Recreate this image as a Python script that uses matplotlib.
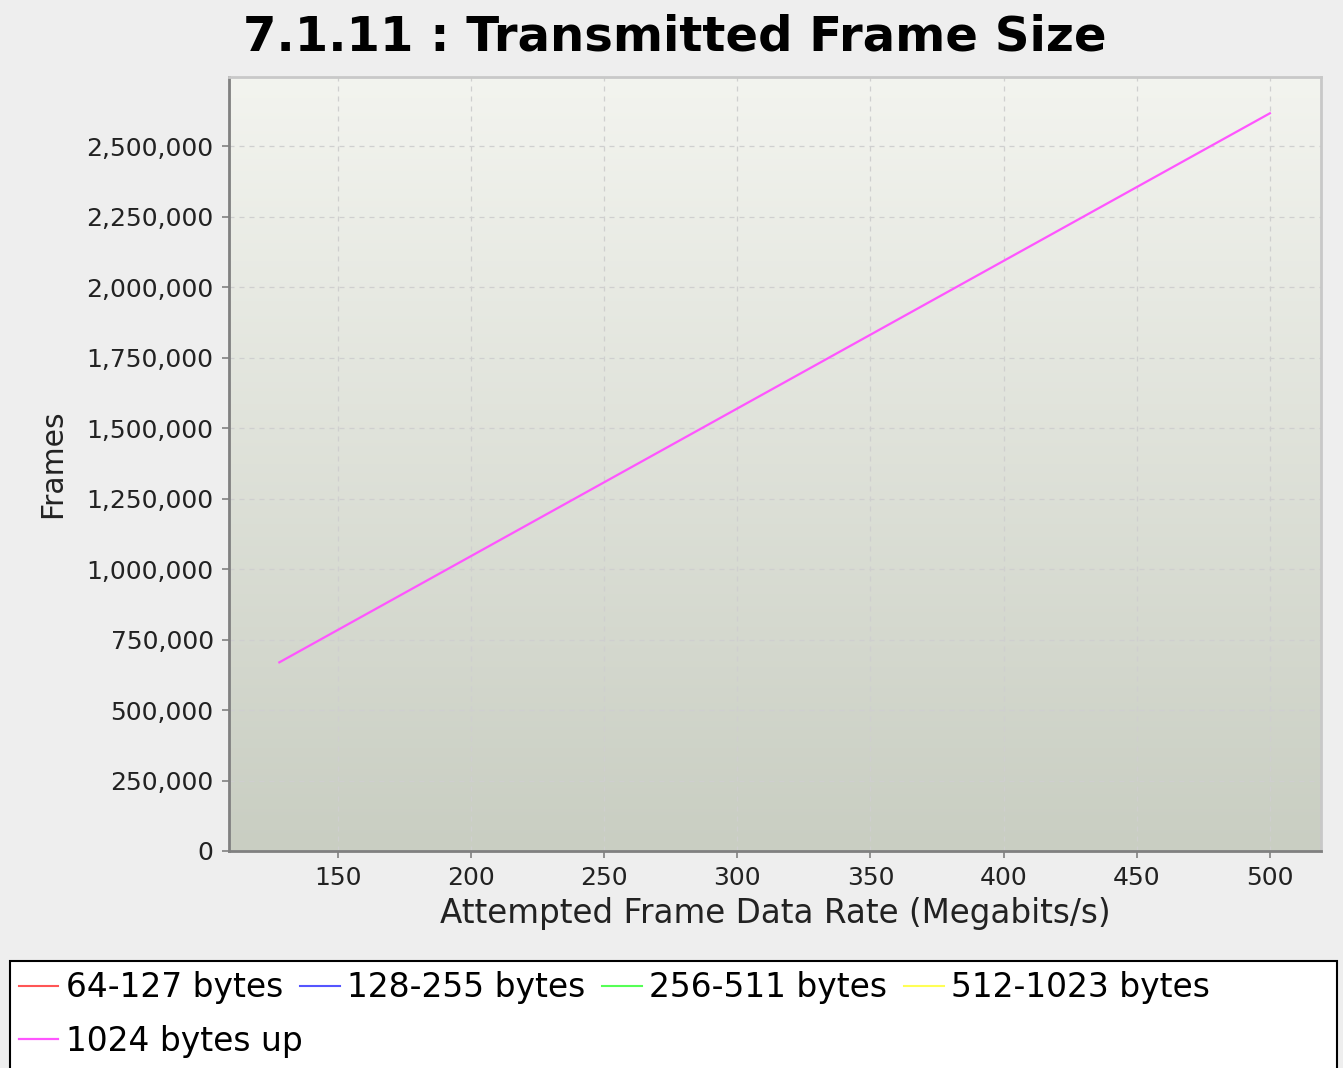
import matplotlib
matplotlib.use("Agg")
import matplotlib.pyplot as plt
import numpy as np
from matplotlib.patches import Rectangle
from matplotlib.ticker import FuncFormatter

# data
series_names = ["64-127 bytes", "128-255 bytes", "256-511 bytes",
                "512-1023 bytes", "1024 bytes up"]
series_colors = ["#ff5555", "#5555ff", "#55ff55", "#ffff55", "#ff55ff"]
rate_1024 = [128, 500]
frames_1024 = [669000, 2616000]
x_ticks = [150, 200, 250, 300, 350, 400, 450, 500]
y_ticks = list(range(0, 2500001, 250000))

fig = plt.figure(figsize=(13.43, 10.68), dpi=100, facecolor="#eeeeee")
ax = fig.add_axes([229 / 1343, 1 - 851 / 1068, (1321 - 229) / 1343, (851 - 77) / 1068])

# gradient plot background
grad = np.linspace(0, 1, 256).reshape(-1, 1)
top = np.array([0xf3, 0xf4, 0xef]) / 255
bot = np.array([0xc9, 0xce, 0xc2]) / 255
img = top + (bot - top) * grad[:, :, None]
ax.imshow(img, extent=[0, 1, 0, 1], transform=ax.transAxes, aspect="auto", zorder=0)

handles = []
for name, color in zip(series_names[:4], series_colors[:4]):
    h, = ax.plot([], [], color=color, lw=1.5, label=name)
    handles.append(h)
h, = ax.plot(rate_1024, frames_1024, color=series_colors[4],
             lw=1.6, label=series_names[4], zorder=3)
handles.append(h)

ax.set_xlim(109.1, 519.2)
ax.set_ylim(0, 2744700)
ax.set_xticks(x_ticks)
ax.set_yticks(y_ticks)
ax.yaxis.set_major_formatter(FuncFormatter(lambda v, p: f"{int(v):,}"))
ax.grid(True, color="#cfcfcf", linestyle=(0, (4, 4)), lw=0.9)
for ln in ax.get_xgridlines() + ax.get_ygridlines():
    ln.set_zorder(1)

ax.tick_params(direction="out", length=5, width=1.2, color="#808080",
               labelsize=18, labelcolor="#222222", pad=6)
for side in ["left", "bottom"]:
    ax.spines[side].set_color("#808080")
    ax.spines[side].set_linewidth(2)
for side in ["top", "right"]:
    ax.spines[side].set_color("#c8c8c8")
    ax.spines[side].set_linewidth(2)

ax.set_xlabel("Attempted Frame Data Rate (Megabits/s)", fontsize=23.5, color="#222222", labelpad=5)
ax.set_ylabel("Frames", fontsize=21.5, color="#222222", labelpad=14)
fig.text(675 / 1343, 1 - 37 / 1068, "7.1.11 : Transmitted Frame Size",
         fontsize=34.7, fontweight="bold", ha="center", va="center")

# legend box
fig.patches.append(Rectangle((10 / 1343, -0.01), 1327 / 1343, (1068 - 961) / 1068 + 0.01,
                             transform=fig.transFigure, fill=True, facecolor="white",
                             edgecolor="black", lw=1.5))
leg_kw = dict(frameon=False, fontsize=23.7, handlelength=1.2, handletextpad=0.23,
              columnspacing=0.51, borderpad=0, borderaxespad=0)
fig.legend(handles[:4], series_names[:4], loc="center left",
           bbox_to_anchor=(19 / 1343, 1 - 988 / 1068), ncol=4, **leg_kw)
fig.legend(handles[4:], series_names[4:], loc="center left",
           bbox_to_anchor=(19 / 1343, 1 - 1041 / 1068), ncol=1, **leg_kw)

fig.savefig("out.png", dpi=100, facecolor=fig.get_facecolor())
